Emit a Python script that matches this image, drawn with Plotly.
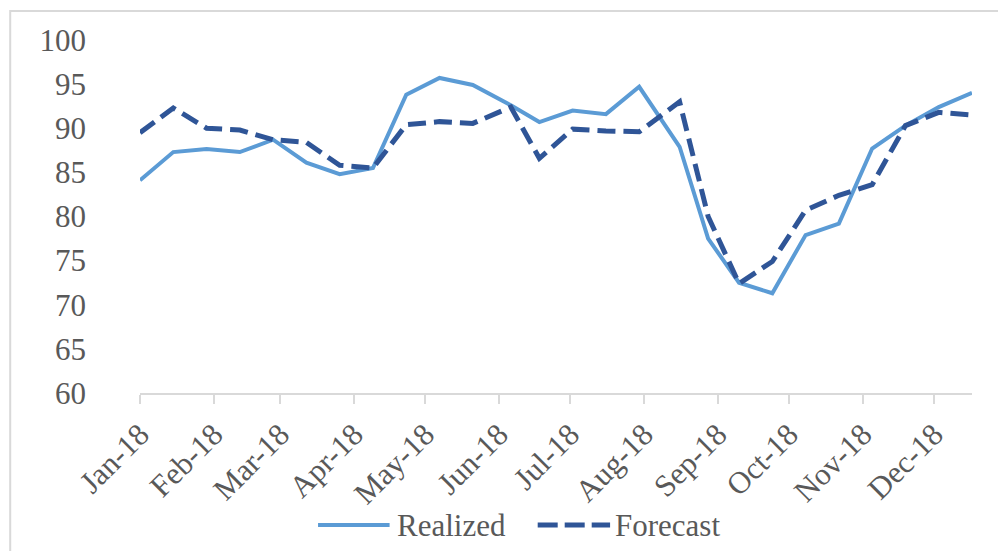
import plotly.graph_objects as go

DATES = [
    "2018-01-01", "2018-01-15", "2018-01-29", "2018-02-12", "2018-02-26",
    "2018-03-12", "2018-03-26", "2018-04-09", "2018-04-23", "2018-05-07",
    "2018-05-21", "2018-06-06", "2018-06-18", "2018-07-02", "2018-07-16",
    "2018-07-30", "2018-08-16", "2018-08-28", "2018-09-10", "2018-09-24",
    "2018-10-08", "2018-10-22", "2018-11-05", "2018-11-19", "2018-12-03",
    "2018-12-17",
]
REALIZED = [
    84.1, 87.3, 87.65, 87.3, 88.7, 86.1, 84.8, 85.5, 93.8, 95.7,
    94.9, 92.6, 90.7, 92.0, 91.6, 94.7, 87.9, 77.5, 72.5, 71.3,
    77.9, 79.2, 87.7, 90.3, 92.4, 94.0,
]
FORECAST = [
    89.5, 92.3, 90.0, 89.8, 88.7, 88.4, 85.8, 85.5, 90.4, 90.75,
    90.55, 92.4, 86.6, 89.9, 89.7, 89.6, 93.0, 80.0, 72.4, 74.9,
    80.7, 82.4, 83.6, 90.3, 91.8, 91.5,
]
SERIES_NAMES = ["Realized", "Forecast"]

FONT = "Liberation Serif, Times New Roman, serif"
GREY = "#595959"
AXIS = "#d9d9d9"
LIGHT = "#5b9bd5"
DARK = "#2f5597"

fig = go.Figure()
fig.add_trace(go.Scatter(
    x=DATES, y=REALIZED, name=SERIES_NAMES[0], mode="lines",
    line=dict(color=LIGHT, width=4),
))
fig.add_trace(go.Scatter(
    x=DATES, y=FORECAST, name=SERIES_NAMES[1], mode="lines",
    line=dict(color=DARK, width=5, dash="18px,8px"),
))

# the page body adds 8px of margin, so the figure is 8px smaller
fig.update_layout(
    width=998,
    height=543,
    margin=dict(l=132, r=34, t=32, b=158),
    paper_bgcolor="white",
    plot_bgcolor="white",
    font=dict(family=FONT, color=GREY, size=28),
    showlegend=False,
    xaxis=dict(
        type="date",
        range=["2018-01-01", "2018-12-17"],
        dtick="M1",
        tick0="2018-01-01",
        tickformat="%b-%y",
        tickangle=-45,
        showgrid=False,
        showline=True,
        linecolor=AXIS,
        linewidth=2,
        ticks="outside",
        ticklen=9,
        tickcolor=AXIS,
        tickwidth=1.5,
        tickfont=dict(size=31, color=GREY),
        zeroline=False,
        automargin=False,
    ),
    yaxis=dict(
        range=[60, 100],
        dtick=5,
        showgrid=False,
        showline=False,
        zeroline=False,
        ticks="",
        ticklabelstandoff=53,
        tickfont=dict(size=31, color=GREY),
        automargin=False,
    ),
)

# legend drawn by hand so the long line samples match the original
legend_y = -0.374
fig.add_shape(type="line", xref="paper", yref="paper",
              x0=0.214, x1=0.300, y0=legend_y, y1=legend_y,
              line=dict(color=LIGHT, width=4))
fig.add_shape(type="line", xref="paper", yref="paper",
              x0=0.478, x1=0.565, y0=legend_y, y1=legend_y,
              line=dict(color=DARK, width=5, dash="20px,7px"))
fig.add_annotation(text=SERIES_NAMES[0], xref="paper", yref="paper",
                   x=0.307, y=legend_y, xanchor="left", yanchor="middle",
                   showarrow=False, font=dict(size=31, color=GREY))
fig.add_annotation(text=SERIES_NAMES[1], xref="paper", yref="paper",
                   x=0.568, y=legend_y, xanchor="left", yanchor="middle",
                   showarrow=False, font=dict(size=31, color=GREY))

# outer chart border, as in the source image
fig.add_shape(
    type="rect", xref="paper", yref="paper",
    x0=-0.156, x1=1.046, y0=-0.47, y1=1.082,
    line=dict(color=AXIS, width=2),
    fillcolor="rgba(0,0,0,0)", layer="below",
)

fig.write_html("out.html")
